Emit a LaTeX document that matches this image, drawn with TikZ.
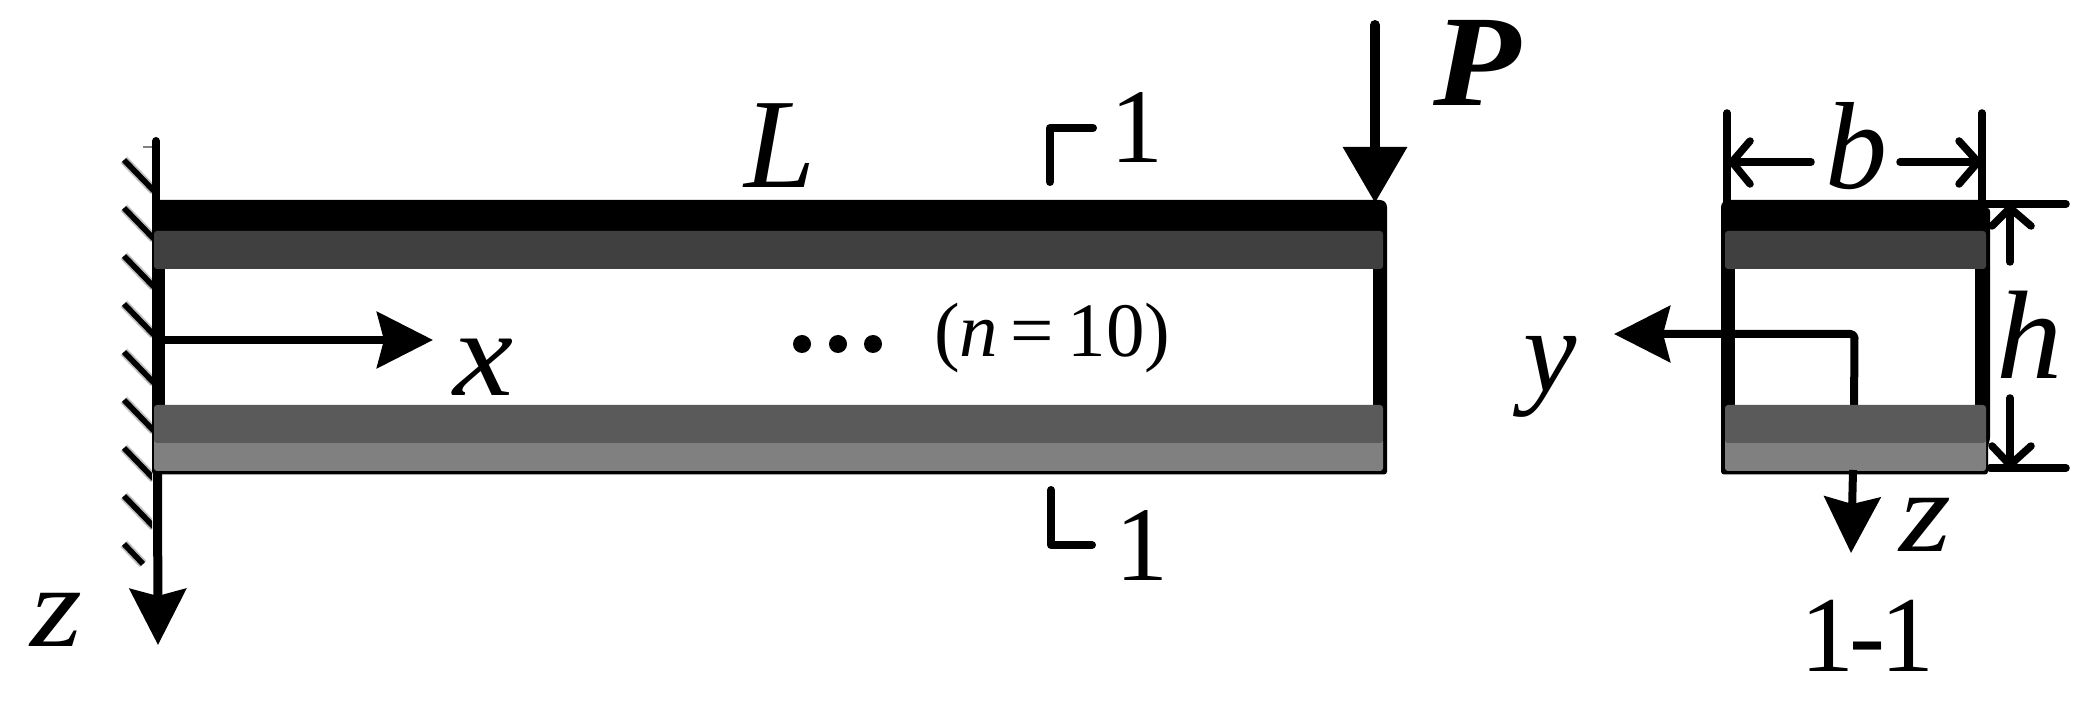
\documentclass[tikz,border=0pt]{standalone}
\usepackage{graphicx}
\usepackage{fontspec}
\setmainfont{Liberation Serif}
\usetikzlibrary{arrows.meta}
\definecolor{layerA}{HTML}{404040}
\definecolor{layerB}{HTML}{5A5A5A}
\definecolor{layerC}{HTML}{808080}
\tikzset{
  lab/.style={inner sep=0pt,outer sep=0pt,anchor=base},
  axisline/.style={line width=4pt,line cap=round,line join=round},
  dimline/.style={line width=3.75pt,line cap=round,line join=round},
  sweptA/.style={-{Stealth[length=28pt,width=28pt,inset=3.5pt]}},
  flatA/.style={-{Stealth[length=28pt,width=31pt,inset=0pt]}},
  layer/.style={rounded corners=1.5pt,draw=none},
  hatchg/.style={line width=4.6pt,draw=black!25},
  hatchk/.style={line width=2.8pt,draw=black},
}
\newcommand{\fsz}[1]{\fontsize{#1}{#1}\selectfont}
\begin{document}
\begin{tikzpicture}[x=0.5pt,y=-0.5pt]
\useasboundingbox (0,0) rectangle (2096,704);
% hatching of the wall
\begin{scope}
\clip (118,140) rectangle (152,570);
\foreach \hy in {160,208,256,304,352,400,448,496}{
  \draw[hatchg] (124,\hy) -- (154,\hy+31);
  \draw[hatchk] (124,\hy) -- (154,\hy+31);
}
\draw[hatchg] (124,544) -- (143,564);
\draw[hatchk] (124,544) -- (143,564);
\end{scope}
\draw[line width=0.6pt,black!50] (143,147) -- (152,147);
% key points
\coordinate (wallT) at (156,141);
\coordinate (wallM) at (156,210);
\coordinate (wallB) at (157.5,470);
\coordinate (wallE) at (158,645);
\coordinate (xS) at (160,340);
\coordinate (xE) at (433,340);
\coordinate (pS) at (1375,25);
\coordinate (pE) at (1375,203);
% beam
\draw[line width=4pt,line cap=round] (wallT) -- (wallM);
\fill[black,rounded corners=1.5pt] (152,200) -- (1383,200) -- (1387,204) -- (1387,474.5) -- (152,474.5) -- cycle;
\fill[white] (165,269) rectangle (1373,405);
\draw[axisline,sweptA,line width=4.5pt,line cap=butt] (wallB) -- (wallE);
\draw[axisline,sweptA] (xS) -- (xE);
\draw[axisline,flatA,line width=5pt] (pS) -- (pE);
\fill[layerA,layer] (154,231) rectangle (1383,269);
\fill[layerC,layer] (154,438) rectangle (1383,471);
\fill[layerB,layer] (154,405) rectangle (1383,443);
% section marks
\coordinate (m1a) at (1050,182);
\coordinate (m1b) at (1050,128);
\coordinate (m1c) at (1093,128);
\coordinate (m2a) at (1051,490);
\coordinate (m2b) at (1051,545);
\coordinate (m2c) at (1092,545);
\draw[axisline] (m1a) -- (m1b) -- (m1c);
\draw[axisline] (m2a) -- (m2b) -- (m2c);
% dots
\fill (802,344) circle (9);
\fill (838,344) circle (9);
\fill (873,344) circle (9);
% cross section
\fill[black,rounded corners=1.5pt] (1721,204) -- (1725,200) -- (1986,200) -- (1986,208) -- (1990,208) -- (1990,440) -- (1988,445) -- (1988,474.5) -- (1721,474.5) -- cycle;
\fill[white] (1735,269) rectangle (1975,405);
\coordinate (yC) at (1854.5,334);
\coordinate (yE) at (1614,334);
\coordinate (zS) at (1854,410);
\coordinate (zT) at (1853,470);
\coordinate (zE) at (1851,553);
\draw[axisline,sweptA,rounded corners=2pt,line cap=butt] (zS) -- (yC) -- (yE);
\fill[layerA,layer] (1725,231) rectangle (1986,269);
\fill[layerC,layer] (1725,438) rectangle (1986,471);
\fill[layerB,layer] (1725,405) rectangle (1986,443);
\draw[axisline,sweptA,line cap=butt] (zT) -- (zE);
% dimension b
\coordinate (bl) at (1727,113);
\coordinate (bl2) at (1727,202);
\coordinate (br) at (1982,113);
\coordinate (br2) at (1982,202);
\draw[dimline] (bl) -- (bl2);
\draw[dimline] (br) -- (br2);
\coordinate (bla) at (1811,162);
\coordinate (blt) at (1732,162);
\coordinate (bra) at (1900,162);
\coordinate (brt) at (1978,162);
\draw[dimline] (bla) -- (blt);
\draw[dimline] (1750,141) -- (blt) -- (1750,184);
\draw[dimline] (bra) -- (brt);
\draw[dimline] (1959,141) -- (brt) -- (1959,184);
% dimension h
\coordinate (ht1) at (1986,204);
\coordinate (ht2) at (2066,204);
\coordinate (hb1) at (1990,468);
\coordinate (hb2) at (2066,468);
\draw[dimline] (ht1) -- (ht2);
\draw[dimline] (hb1) -- (hb2);
\coordinate (hta) at (2010,262);
\coordinate (htt) at (2010,208);
\coordinate (hba) at (2010,398);
\coordinate (hbt) at (2010,465);
\draw[dimline] (hta) -- (htt);
\draw[dimline] (1992,226) -- (htt) -- (2031,226);
\draw[dimline] (hba) -- (hbt);
\draw[dimline] (1992,446) -- (hbt) -- (2031,446);
% labels
\node[lab] (lL) at (780,188) {\fsz{64}\itshape L};
\node[lab] (lx) at (484,396) {\scalebox{1.1}[1]{\fsz{61.5}\itshape x}};
\node[lab] (lzl) at (56,646) {\scalebox{1.15}[1]{\fsz{58}\itshape z}};
\node[lab,anchor=base west] (ln) at (934,357) {\fsz{38.5}(\textit{n}\kern6pt=\kern7pt10)};
\node[lab] (lP) at (1477,106) {\scalebox{1.1}[1]{\fsz{65}\bfseries\itshape P}};
\node[lab] (l1t) at (1137,163) {\fsz{53}1};
\node[lab] (l1b) at (1142,581) {\fsz{53}1};
\node[lab] (lb) at (1856,189) {\fsz{62}\itshape b};
\node[lab] (lh) at (2030,379) {\scalebox{1.05}[1]{\fsz{63}\itshape h}};
\node[lab] (ly) at (1550,392) {\fsz{60}\itshape y};
\node[lab] (lzr) at (1925.5,552) {\scalebox{1.15}[1]{\fsz{58}\itshape z}};
\node[lab] (l11) at (1867,671) {\fsz{54}1\kern-2.5pt-\kern-2.5pt1};
\end{tikzpicture}
\end{document}
